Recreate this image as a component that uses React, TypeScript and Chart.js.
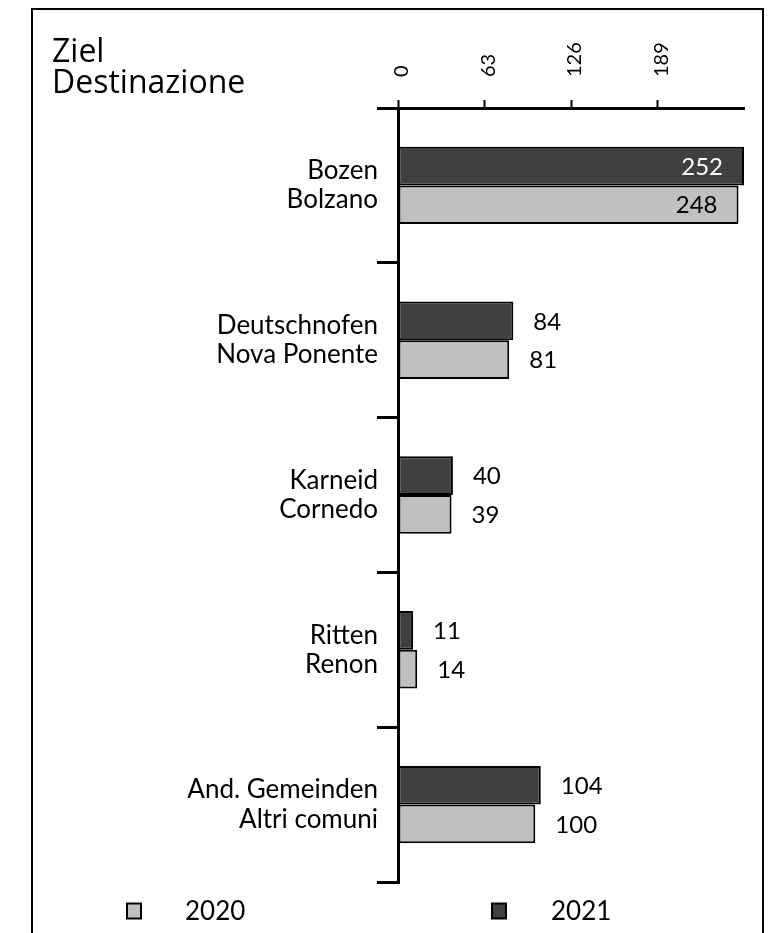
import React, { useEffect, useRef } from "react";
import { Chart, registerables } from "chart.js";

Chart.register(...registerables);

const categories: string[][] = [
  ["Bozen", "Bolzano"],
  ["Deutschnofen", "Nova Ponente"],
  ["Karneid", "Cornedo"],
  ["Ritten", "Renon"],
  ["And. Gemeinden", "Altri comuni"],
];
const values2021: number[] = [252, 84, 40, 11, 104];
const values2020: number[] = [248, 81, 39, 14, 100];
const xTicks: number[] = [0, 63, 126, 189];
const titleLines: string[] = ["Ziel", "Destinazione"];
const legendLabels: string[] = ["2020", "2021"];

const DARK = "#404040";
const LIGHT = "#c0c0c0";
const FONT = "Lato, 'Open Sans', sans-serif";
const TITLE_FONT = "'Open Sans', Lato, sans-serif";

const CW = 729;
const CH = 930;

export default function App() {
  const ref = useRef<HTMLCanvasElement | null>(null);

  useEffect(() => {
    document.documentElement.style.overflow = "hidden";
    document.body.style.overflow = "hidden";
    const canvas = ref.current;
    if (!canvas) return;

    const decor = {
      id: "decor",
      afterDatasetsDraw(chart: any) {
        const ctx = chart.ctx;
        const area = chart.chartArea;
        ctx.save();
        ctx.font = `24px ${FONT}`;
        ctx.textBaseline = "middle";
        chart.data.datasets.forEach((ds: any, di: number) => {
          const meta = chart.getDatasetMeta(di);
          meta.data.forEach((bar: any, i: number) => {
            const v = ds.data[i];
            const txt = String(v);
            const w = ctx.measureText(txt).width;
            if (bar.x + 20 + w > area.right) {
              ctx.textAlign = "right";
              ctx.fillStyle = di === 0 ? "#ffffff" : "#000000";
              ctx.fillText(txt, bar.x - 21, bar.y + 1);
            } else {
              ctx.textAlign = "left";
              ctx.fillStyle = "#000000";
              ctx.fillText(txt, bar.x + 20, bar.y + 1);
            }
          });
        });
        ctx.restore();
      },
      afterDraw(chart: any) {
        const ctx = chart.ctx;
        const xs = chart.scales.x;
        ctx.save();
        // x tick labels (rotated)
        ctx.font = `20px ${FONT}`;
        ctx.fillStyle = "#000";
        xTicks.forEach((v) => {
          const px = xs.getPixelForValue(v);
          ctx.save();
          ctx.translate(px + 4, 67);
          ctx.rotate(-Math.PI / 2);
          ctx.textAlign = "left";
          ctx.textBaseline = "middle";
          ctx.fillText(String(v), 0, 0);
          ctx.restore();
        });
        // title
        ctx.font = `32px ${TITLE_FONT}`;
        ctx.fillStyle = "#000";
        ctx.textAlign = "left";
        ctx.textBaseline = "alphabetic";
        ctx.fillText(titleLines[0], 19, 52);
        ctx.fillText(titleLines[1], 19, 83);
        // legend
        const items = [
          { label: legendLabels[0], color: LIGHT, x: 94, tx: 152 },
          { label: legendLabels[1], color: DARK, x: 459, tx: 518 },
        ];
        const ly = 901;
        items.forEach((it) => {
          ctx.fillStyle = it.color;
          ctx.strokeStyle = "#000";
          ctx.lineWidth = 2;
          ctx.fillRect(it.x, ly - 7.5, 14, 15);
          ctx.strokeRect(it.x, ly - 7.5, 14, 15);
          ctx.fillStyle = "#000";
          ctx.font = `26px ${FONT}`;
          ctx.textBaseline = "middle";
          ctx.textAlign = "left";
          ctx.fillText(it.label, it.tx, ly + 1);
        });
        ctx.restore();
      },
    };

    const chart = new Chart(canvas, {
      type: "bar",
      data: {
        labels: categories,
        datasets: [
          {
            label: "2021",
            data: values2021,
            backgroundColor: DARK,
            borderColor: "#000",
            borderWidth: 2,
            borderSkipped: false,
            barPercentage: 1,
            categoryPercentage: 0.5,
          },
          {
            label: "2020",
            data: values2020,
            backgroundColor: LIGHT,
            borderColor: "#000",
            borderWidth: 2,
            borderSkipped: false,
            barPercentage: 1,
            categoryPercentage: 0.5,
          },
        ],
      },
      options: {
        indexAxis: "y",
        animation: false,
        responsive: false,
        maintainAspectRatio: false,
        layout: { padding: { left: 0, right: 18, top: 0, bottom: 58 } },
        plugins: {
          legend: { display: false },
          tooltip: { enabled: false },
        },
        scales: {
          x: {
            position: "top",
            min: 0,
            max: 252,
            afterBuildTicks(scale: any) {
              scale.ticks = xTicks.map((v) => ({ value: v }));
            },
            afterFit(scale: any) {
              scale.height = 98;
            },
            grid: {
              display: true,
              drawOnChartArea: false,
              drawTicks: true,
              tickLength: 8,
              tickWidth: 2,
              color: "#000",
            },
            border: { display: true, color: "#000", width: 3 },
            ticks: { display: false },
          },
          y: {
            offset: true,
            afterFit(scale: any) {
              scale.width = 365;
            },
            grid: {
              display: true,
              offset: true,
              drawOnChartArea: false,
              drawTicks: true,
              tickLength: 21,
              lineWidth: 3,
              color: "#000",
            },
            border: { display: true, color: "#000", width: 3 },
            ticks: {
              padding: -1,
              color: "#000",
              font: { family: FONT, size: 26, lineHeight: 1.12 },
            },
          },
        },
      },
      plugins: [decor],
    } as any);

    return () => chart.destroy();
  }, []);

  return (
    <div
      style={{
        marginLeft: 23,
        border: "2px solid #000",
        width: CW,
        height: CH,
        boxSizing: "content-box",
      }}
    >
      <canvas ref={ref} width={CW} height={CH} style={{ display: "block" }} />
    </div>
  );
}
